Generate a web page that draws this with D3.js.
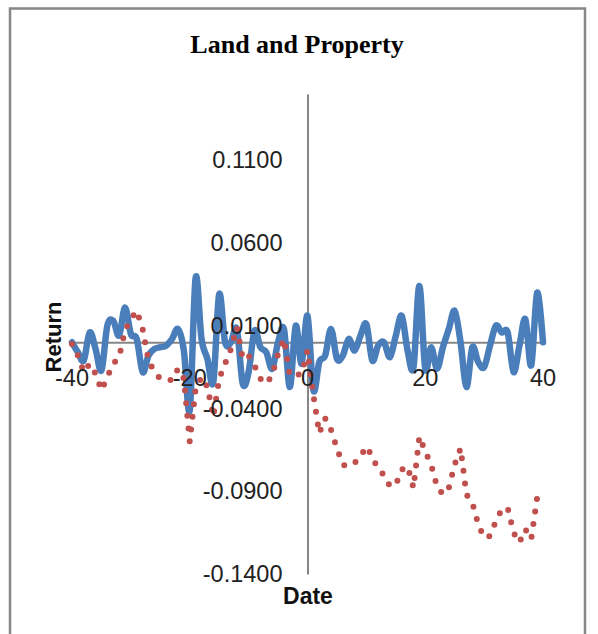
<!DOCTYPE html>
<html>
<head>
<meta charset="utf-8">
<script src="https://cdn.jsdelivr.net/npm/d3@7/dist/d3.min.js"></script>
<style>
  html, body { margin: 0; padding: 0; background: #fff; }
  svg { display: block; }
</style>
</head>
<body>
<svg id="chart" width="598" height="634"></svg>
<script>
// ---- data ----
const title = "Land and Property";
const xLabel = "Date";
const yLabel = "Return";
const dates = d3.range(-40, 41);
const xTicks = [-40, -20, 0, 20, 40];
const yTicks = [-0.14, -0.09, -0.04, 0.01, 0.06, 0.11];
const xTickLabels = ["-40", "-20", "0", "20", "40"];
const yTickLabels = ["-0.1400", "-0.0900", "-0.0400", "0.0100", "0.0600", "0.1100"];
const xDomain = [-40, 40];
const yDomain = [-0.14, 0.15];

// solid blue series
const seriesA = [
  0.000, -0.006, -0.011, 0.006, -0.004, -0.017, 0.010, 0.013, 0.004, 0.021,
  0.005, 0.002, -0.018, -0.008, -0.004, -0.003, -0.002, 0.002, 0.008, -0.005,
  -0.041, 0.039, 0.002, -0.010, -0.024, 0.029, 0.000, 0.000, 0.008, -0.025,
  -0.018, 0.007, -0.003, -0.006, -0.016, 0.000, 0.008, -0.027, 0.010, -0.013,
  0.016,
  -0.029, -0.012, -0.008, 0.008, -0.010, -0.008, 0.002, -0.005, 0.004, 0.011,
  -0.011, -0.002, 0.000, -0.009, 0.004, 0.016, -0.005, -0.015, 0.034, -0.016,
  -0.003, -0.016, -0.003, 0.008, 0.019, 0.000, -0.027, -0.003, -0.012, -0.015,
  -0.002, 0.010, 0.006, 0.006, -0.018, -0.002, 0.014, -0.014, 0.030, 0.000
];
// dotted red series
const seriesB = [
  -0.001, -0.008, -0.018, -0.013, -0.019, -0.029, -0.021, -0.013, -0.009, 0.007,
  0.014, 0.019, 0.008, -0.011, -0.018, -0.022, -0.022, -0.023, -0.016, -0.022,
  -0.060, -0.028, -0.021, -0.027, -0.045, -0.022, -0.013, -0.004, 0.009, -0.010,
  -0.008, -0.014, -0.022, -0.025, -0.020, -0.007, 0.002, -0.020, -0.020, -0.019,
  -0.005,
  -0.032, -0.055, -0.046, -0.053, -0.064, -0.074, -0.075, -0.073, -0.069, -0.063,
  -0.069, -0.077, -0.080, -0.087, -0.086, -0.077, -0.075, -0.088, -0.057, -0.066,
  -0.074, -0.087, -0.092, -0.088, -0.074, -0.064, -0.092, -0.097, -0.110, -0.118,
  -0.117, -0.108, -0.101, -0.100, -0.115, -0.121, -0.113, -0.119, -0.094, -0.090
];

// ---- drawing ----
const svg = d3.select("#chart");
const W = 598, H = 634;

svg.append("rect")
  .attr("x", 10).attr("y", 8.5)
  .attr("width", 575).attr("height", H + 20)
  .attr("fill", "#fff")
  .attr("stroke", "#878787")
  .attr("stroke-width", 2.5);

svg.append("text")
  .attr("x", 297).attr("y", 53)
  .attr("text-anchor", "middle")
  .attr("font-family", "'Liberation Serif', 'Times New Roman', serif")
  .attr("font-weight", "bold")
  .attr("font-size", 26)
  .attr("fill", "#000")
  .text(title);

const x = d3.scaleLinear().domain(xDomain).range([72, 543]);
const y = d3.scaleLinear().domain(yDomain).range([574, 94]);

const font = "'Liberation Sans', Arial, sans-serif";

// axis lines
const gAxes = svg.append("g");
const xAxis = d3.axisBottom(x).tickValues(xTicks).tickSize(0).tickSizeOuter(0);
const yAxis = d3.axisLeft(y).tickValues(yTicks).tickSize(0).tickSizeOuter(0);

const gx = gAxes.append("g").attr("transform", `translate(0,${y(0)})`).call(xAxis);
const gy = gAxes.append("g").attr("transform", `translate(${x(0)},0)`).call(yAxis);
[gx, gy].forEach(g => {
  g.select(".domain").attr("stroke", "#868686").attr("stroke-width", 2);
  g.selectAll("text").remove();
});

// series
const pts = (arr) => dates.map((d, i) => [d, arr[i]]);
const lineSmooth = d3.line().x(d => x(d[0])).y(d => y(d[1])).curve(d3.curveCatmullRom.alpha(0));
const lineStraight = d3.line().x(d => x(d[0])).y(d => y(d[1]));

svg.append("path")
  .datum(pts(seriesA))
  .attr("d", lineSmooth)
  .attr("fill", "none")
  .attr("stroke", "#4a7ebb")
  .attr("stroke-width", 6.5)
  .attr("stroke-linejoin", "round")
  .attr("stroke-linecap", "round");

svg.append("path")
  .datum(pts(seriesB))
  .attr("d", lineStraight)
  .attr("fill", "none")
  .attr("stroke", "#c0504d")
  .attr("stroke-width", 6)
  .attr("stroke-dasharray", "0 12.7")
  .attr("stroke-linecap", "round");

// tick labels on top
const gLab = svg.append("g").attr("font-family", font).attr("font-size", 23.5).attr("fill", "#222");
gLab.selectAll("text.yl").data(yTicks).enter().append("text")
  .attr("class", "yl")
  .attr("x", x(0) - 25)
  .attr("y", d => y(d))
  .attr("dy", "0.35em")
  .attr("text-anchor", "end")
  .text((d, i) => yTickLabels[i]);
gLab.selectAll("text.xl").data(xTicks).enter().append("text")
  .attr("class", "xl")
  .attr("x", d => x(d))
  .attr("y", y(0) + 35)
  .attr("dy", "0.35em")
  .attr("text-anchor", "middle")
  .text((d, i) => xTickLabels[i]);

// axis titles
svg.append("text")
  .attr("x", 308).attr("y", 604)
  .attr("text-anchor", "middle")
  .attr("font-family", font).attr("font-weight", "bold").attr("font-size", 23)
  .attr("fill", "#111")
  .text(xLabel);

svg.append("text")
  .attr("transform", `translate(61,337) rotate(-90)`)
  .attr("text-anchor", "middle")
  .attr("font-family", font).attr("font-weight", "bold").attr("font-size", 22)
  .attr("fill", "#111")
  .text(yLabel);
</script>
</body>
</html>
